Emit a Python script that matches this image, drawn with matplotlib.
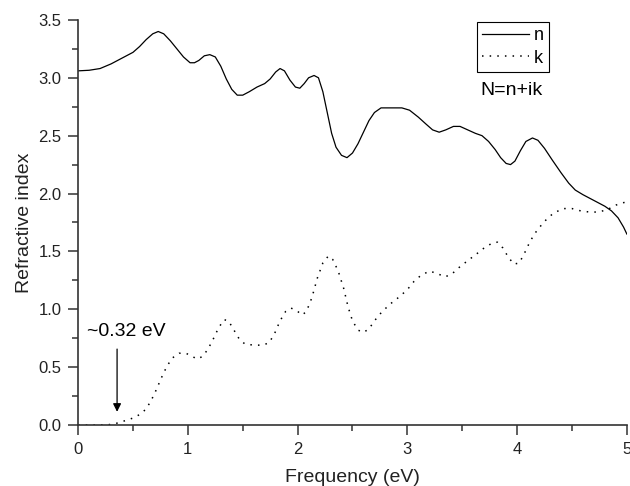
import matplotlib
matplotlib.use('Agg')
import matplotlib.pyplot as plt

plt.rcParams['font.family'] = ['Liberation Sans', 'DejaVu Sans']

n_x = [0.0, 0.1, 0.2, 0.3, 0.4, 0.5, 0.56, 0.62, 0.68, 0.73, 0.78, 0.84, 0.9, 0.96,
       1.02, 1.06, 1.1, 1.15, 1.2, 1.25, 1.3, 1.35, 1.4, 1.45, 1.5, 1.56, 1.63, 1.7,
       1.75, 1.8, 1.84, 1.88, 1.93, 1.98, 2.02, 2.06, 2.1, 2.15, 2.19, 2.23, 2.27,
       2.31, 2.35, 2.4, 2.45, 2.5, 2.55, 2.6, 2.65, 2.7, 2.76, 2.85, 2.95, 3.02,
       3.1, 3.17, 3.23, 3.29, 3.35, 3.42, 3.48, 3.55, 3.62, 3.68, 3.74, 3.8, 3.85,
       3.9, 3.94, 3.98, 4.03, 4.08, 4.14, 4.19, 4.25, 4.32, 4.4, 4.47, 4.53, 4.6,
       4.7, 4.8, 4.86, 4.92, 4.97, 5.0]
n_y = [3.06, 3.065, 3.08, 3.12, 3.17, 3.22, 3.27, 3.33, 3.38, 3.40, 3.38, 3.32, 3.25, 3.18,
       3.13, 3.13, 3.15, 3.19, 3.20, 3.18, 3.10, 2.99, 2.90, 2.85, 2.85, 2.88, 2.92, 2.95,
       2.99, 3.05, 3.08, 3.06, 2.98, 2.92, 2.91, 2.95, 3.00, 3.02, 3.00, 2.88, 2.70,
       2.52, 2.40, 2.33, 2.31, 2.35, 2.43, 2.53, 2.63, 2.70, 2.74, 2.74, 2.74, 2.72,
       2.66, 2.60, 2.55, 2.53, 2.55, 2.58, 2.58, 2.55, 2.52, 2.50, 2.45, 2.38, 2.31,
       2.26, 2.25, 2.28, 2.37, 2.45, 2.48, 2.46, 2.39, 2.29, 2.18, 2.09, 2.03, 1.99,
       1.94, 1.89, 1.85, 1.79, 1.71, 1.65]

# k (imaginary part)
k_x = [0.0, 0.2, 0.28, 0.35, 0.42, 0.5, 0.56, 0.61, 0.66, 0.71, 0.76, 0.81, 0.86, 0.92,
       0.98, 1.03, 1.08, 1.13, 1.18, 1.23, 1.28, 1.33, 1.37, 1.42, 1.47, 1.52, 1.6,
       1.68, 1.74, 1.79, 1.84, 1.89, 1.94, 1.99, 2.04, 2.08, 2.13, 2.18, 2.23, 2.28,
       2.32, 2.37, 2.42, 2.46, 2.5, 2.55, 2.6, 2.65, 2.7, 2.77, 2.85, 2.93, 3.0,
       3.06, 3.12, 3.2, 3.27, 3.34, 3.4, 3.47, 3.55, 3.62, 3.7, 3.77, 3.82, 3.87,
       3.92, 3.97, 4.02, 4.07, 4.12, 4.18, 4.25, 4.33, 4.42, 4.5, 4.58, 4.66, 4.74,
       4.82, 4.9, 5.0]
k_y = [0.0, 0.0, 0.003, 0.015, 0.035, 0.06, 0.09, 0.13, 0.20, 0.30, 0.41, 0.51, 0.58, 0.62,
       0.62, 0.60, 0.57, 0.59, 0.65, 0.74, 0.84, 0.91, 0.90, 0.82, 0.74, 0.70, 0.69,
       0.69, 0.71, 0.79, 0.90, 0.98, 1.01, 0.99, 0.95, 0.98, 1.10, 1.27, 1.40, 1.46,
       1.43, 1.33, 1.18, 1.02, 0.90, 0.82, 0.80, 0.83, 0.90, 0.98, 1.05, 1.11, 1.17,
       1.24, 1.29, 1.33, 1.31, 1.28, 1.30, 1.36, 1.42, 1.47, 1.53, 1.57, 1.58, 1.53,
       1.45, 1.39, 1.40, 1.49, 1.59, 1.68, 1.76, 1.83, 1.87, 1.87, 1.85, 1.84, 1.84,
       1.86, 1.90, 1.93]

x_ticks = [0, 1, 2, 3, 4, 5]
y_ticks = [0.0, 0.5, 1.0, 1.5, 2.0, 2.5, 3.0, 3.5]

fig = plt.figure(figsize=(6.3, 4.86), dpi=100)
ax = fig.add_axes([0.124, 0.1255, 0.871, 0.8335])

ax.plot(n_x, n_y, color='black', lw=0.9, label='n')
ax.plot(k_x, k_y, color='black', lw=1.1, linestyle=(0, (1, 4)), label='k')

ax.set_xlim(0, 5)
ax.set_ylim(0, 3.5)
ax.set_xticks(x_ticks)
ax.set_xticklabels([str(t) for t in x_ticks])
ax.set_yticks(y_ticks)
ax.set_yticklabels(['%.1f' % t for t in y_ticks])
ax.set_xticks([0.5, 1.5, 2.5, 3.5, 4.5], minor=True)
ax.set_yticks([0.25, 0.75, 1.25, 1.75, 2.25, 2.75, 3.25], minor=True)

for s in ['top', 'right']:
    ax.spines[s].set_visible(False)
for s in ['left', 'bottom']:
    ax.spines[s].set_color('#333333')
    ax.spines[s].set_linewidth(1.2)

ax.tick_params(which='major', direction='out', length=7, width=1.1, color='#333333',
               labelsize=12, labelcolor='#222222', pad=5)
ax.tick_params(which='minor', direction='out', length=4, width=1.1, color='#333333')

ax.set_xlabel('Frequency (eV)', fontsize=14, color='#222222', labelpad=9)
ax.set_ylabel('Refractive index', fontsize=14, color='#222222', labelpad=4)

leg = ax.legend(loc='upper left', bbox_to_anchor=(0.727, 0.995), borderaxespad=0,
                fontsize=13, handlelength=2.6, handletextpad=0.25, labelspacing=0.3,
                borderpad=0.3, fancybox=False, framealpha=1)
leg.get_frame().set_edgecolor('black')
leg.get_frame().set_linewidth(0.8)

ax.text(3.95, 2.89, 'N=n+ik', fontsize=14, ha='center', va='center')

ax.annotate('', xy=(0.355, 0.09), xytext=(0.355, 0.68),
            arrowprops=dict(arrowstyle='-|>', color='black', lw=0.9,
                            mutation_scale=12))
ax.text(0.44, 0.81, '~0.32 eV', fontsize=14, ha='center', va='center')

fig.savefig('out.png', dpi=100)
